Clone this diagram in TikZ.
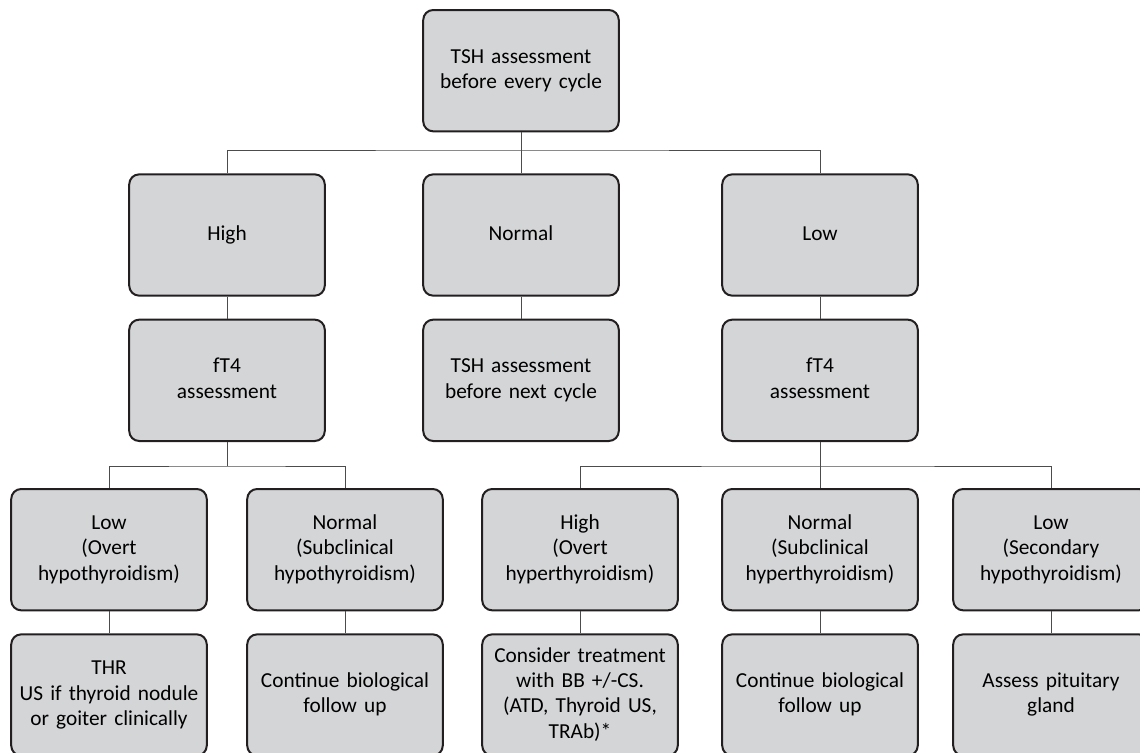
\documentclass[tikz,border=0pt]{standalone}
\usepackage{fontspec}
\setmainfont{Carlito}
\usepackage{tikz}
\definecolor{boxgray}{RGB}{212,213,215}
\definecolor{edgegray}{RGB}{35,31,32}
\tikzstyle{box} = [rectangle, rounded corners=7.5pt, minimum width=144pt, minimum height=91pt, text width=140pt, align=center, draw=edgegray, line width=1.5pt, fill=boxgray, font=\fontsize{16}{19}\selectfont, execute at begin node=\strut, execute at end node=\strut]
\tikzstyle{link} = [draw=black!70, line width=0.75pt]

\begin{document}
\begin{tikzpicture}[node distance=109pt]

\useasboundingbox (0,0) rectangle (855pt,-564.75pt);

\node (tsh) [box] at (390.75pt,-53pt) {TSH assessment\\before every cycle};

\node (hi) [box, below of=tsh, xshift=-220.5pt, yshift=-14.25pt] {High};
\node (nm) [box, below of=tsh, yshift=-14.25pt] {Normal};
\node (lo) [box, below of=tsh, xshift=224.25pt, yshift=-14.25pt] {Low};

\node (fl) [box, below of=hi] {fT4\\assessment};
\node (nx) [box, below of=nm] {TSH assessment\\before next cycle};
\node (fr) [box, below of=lo] {fT4\\assessment};

\node (a1) [box, below of=fl, xshift=-88.5pt, yshift=-18pt] {Low\\(Overt\\hypothyroidism)};
\node (a2) [box, below of=fl, xshift=88.5pt, yshift=-18pt] {Normal\\(Subclinical\\hypothyroidism)};
\node (b1) [box, below of=fr, xshift=-180pt, yshift=-18pt] {High\\(Overt\\hyperthyroidism)};
\node (b2) [box, below of=fr, yshift=-18pt] {Normal\\(Subclinical\\hyperthyroidism)};
\node (b3) [box, below of=fr, xshift=173.25pt, yshift=-18pt] {Low\\(Secondary\\hypothyroidism)};

\node (c1) [box, below of=a1] {THR\\US if thyroid nodule\\or goiter clinically};
\node (c2) [box, below of=a2] {Continue biological\\follow up};
\node (d1) [box, below of=b1] {Consider treatment\\with BB +/-CS.\\(ATD, Thyroid US,\\TRAb)*};
\node (d2) [box, below of=b2] {Continue biological\\follow up};
\node (d3) [box, below of=b3] {Assess pituitary\\gland};

% branch points
\coordinate (j1) at ([yshift=-13.25pt]tsh.south);
\coordinate (j2) at ([yshift=-18pt]fl.south);
\coordinate (j3) at ([yshift=-18pt]fr.south);

\draw [link] (tsh) -- (nm);
\draw [link] (hi.north) |- (j1) -| (lo.north);
\draw [link] (hi) -- (fl);
\draw [link] (nm) -- (nx);
\draw [link] (lo) -- (fr);
\draw [link] (fl.south) -- (j2);
\draw [link] (a1.north) |- (j2) -| (a2.north);
\draw [link] (fr) -- (b2);
\draw [link] (b1.north) |- (j3) -| (b3.north);
\draw [link] (a1) -- (c1);
\draw [link] (a2) -- (c2);
\draw [link] (b1) -- (d1);
\draw [link] (b2) -- (d2);
\draw [link] (b3) -- (d3);

\end{tikzpicture}
\end{document}
